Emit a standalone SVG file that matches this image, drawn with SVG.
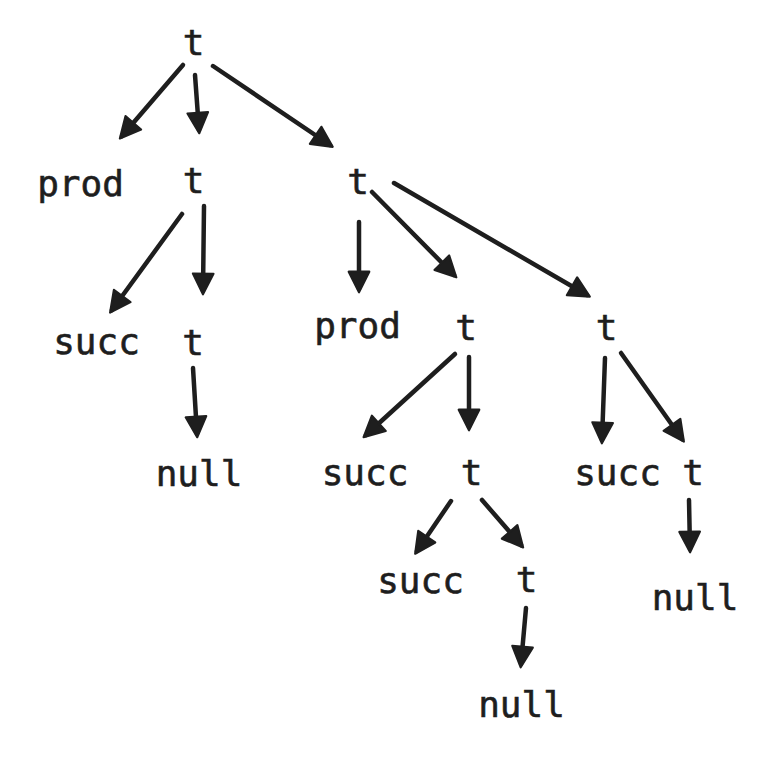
<svg xmlns="http://www.w3.org/2000/svg" width="779" height="767" viewBox="0 0 779 767">
<style>
text{font-family:"DejaVu Sans Mono","Liberation Mono",monospace;font-size:36px;fill:#1e1e1e;stroke:#1e1e1e;stroke-width:0.6;text-anchor:middle}
.c line{stroke:#1e1e1e;stroke-width:4.5;stroke-linecap:round;marker-end:url(#ah)}
</style>
<defs>
<marker id="ah" markerUnits="userSpaceOnUse" markerWidth="26" markerHeight="26" viewBox="-2 -2 24 23" refX="16" refY="9.5" orient="auto">
<path d="M0,0 L19,9.5 L0,19 Z" fill="#1e1e1e" stroke="#1e1e1e" stroke-width="2" stroke-linejoin="round"/>
</marker>
</defs>
<rect width="779" height="767" fill="#ffffff"/>
<g id="n-root"><text x="193.5" y="55">t</text></g>
<g id="n-prod1"><text x="80.5" y="196">prod</text></g>
<g id="n-t1"><text x="193.5" y="193">t</text></g>
<g id="n-t2"><text x="358" y="194">t</text></g>
<g id="n-succ1"><text x="96.5" y="354">succ</text></g>
<g id="n-t3"><text x="193" y="355">t</text></g>
<g id="n-prod2"><text x="357.5" y="338">prod</text></g>
<g id="n-t4"><text x="466" y="340">t</text></g>
<g id="n-t5"><text x="606.5" y="340">t</text></g>
<g id="n-null1"><text x="199" y="486">null</text></g>
<g id="n-succ2"><text x="365" y="485">succ</text></g>
<g id="n-t6"><text x="471.5" y="485">t</text></g>
<g id="n-succ3"><text x="617.5" y="485">succ</text></g>
<g id="n-t7"><text x="693" y="485">t</text></g>
<g id="n-succ4"><text x="420.5" y="593">succ</text></g>
<g id="n-t8"><text x="526.5" y="592">t</text></g>
<g id="n-null2"><text x="695" y="610">null</text></g>
<g id="n-null3"><text x="521.5" y="717">null</text></g>
<g id="connectors" class="c">
<line x1="183" y1="65" x2="122" y2="136"/>
<line x1="195" y1="75" x2="199" y2="130"/>
<line x1="213" y1="66" x2="330" y2="145"/>
<line x1="182" y1="214" x2="112" y2="310"/>
<line x1="204" y1="206" x2="203" y2="291"/>
<line x1="193" y1="368" x2="197" y2="434"/>
<line x1="359" y1="222" x2="359" y2="289"/>
<line x1="372" y1="192" x2="454" y2="275"/>
<line x1="394" y1="183" x2="587" y2="295"/>
<line x1="455" y1="354" x2="366" y2="435"/>
<line x1="469" y1="357" x2="469" y2="427"/>
<line x1="605" y1="358" x2="602" y2="440"/>
<line x1="621" y1="353" x2="682" y2="439"/>
<line x1="451" y1="501" x2="417" y2="551"/>
<line x1="482" y1="500" x2="521" y2="545"/>
<line x1="526" y1="608" x2="521" y2="664"/>
<line x1="689" y1="500" x2="690" y2="549"/>
</g>
</svg>
